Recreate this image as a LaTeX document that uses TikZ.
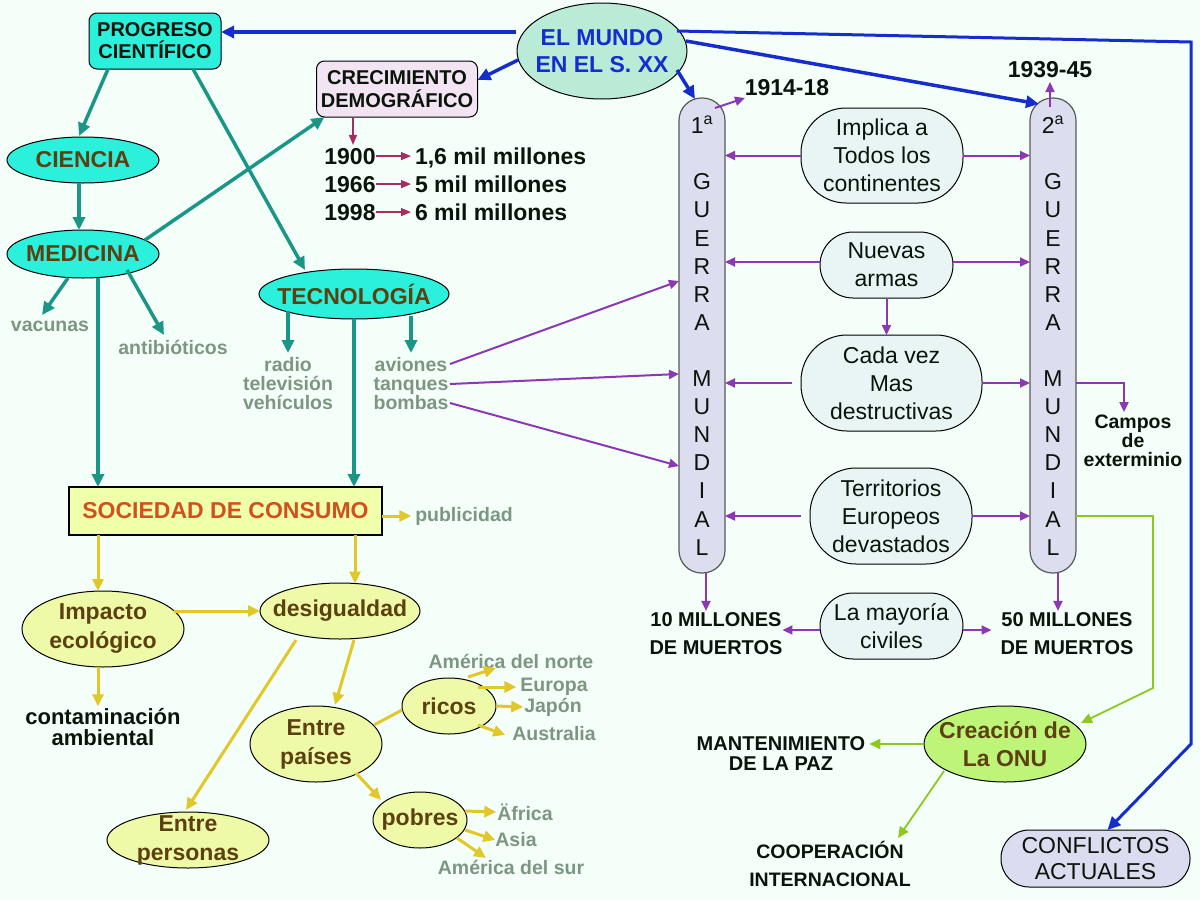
\documentclass[tikz,border=0pt]{standalone}
\usepackage{fontspec}
\setmainfont{Liberation Sans}
\usetikzlibrary{shapes.geometric,arrows.meta,calc}
\newcommand\fsz[2]{\fontsize{#1}{#2}\selectfont}
\definecolor{bg}{RGB}{245,255,250}
\definecolor{cyanf}{RGB}{42,240,220}
\definecolor{teal2}{RGB}{26,150,135}
\definecolor{brownt}{RGB}{92,64,16}
\definecolor{graygreen}{RGB}{125,150,130}
\definecolor{blue2}{RGB}{22,45,205}
\definecolor{mundof}{RGB}{185,235,215}
\definecolor{crecf}{RGB}{243,228,243}
\definecolor{maroon2}{RGB}{165,45,95}
\definecolor{yel}{RGB}{225,200,40}
\definecolor{yelf}{RGB}{238,250,168}
\definecolor{socf}{RGB}{240,255,170}
\definecolor{soct}{RGB}{210,80,30}
\definecolor{purp}{RGB}{140,55,180}
\definecolor{guerraf}{RGB}{220,222,240}
\definecolor{pillf}{RGB}{232,245,244}
\definecolor{greenl}{RGB}{140,200,30}
\definecolor{onuf}{RGB}{190,245,120}
\definecolor{darkt}{RGB}{10,20,10}
\definecolor{conflf}{RGB}{220,220,240}
\begin{document}
\begin{tikzpicture}[x=1pt,y=-1pt,
  every node/.style={inner sep=0pt,outer sep=0pt,align=center},
  tarrow/.style={draw=teal2,line width=3.5pt,-{Triangle[length=13pt,width=12pt]}},
  barrow/.style={draw=blue2,line width=3.5pt,-{Triangle[length=13pt,width=12pt]}},
  parrow/.style={draw=purp,line width=2pt,-{Triangle[length=10pt,width=9pt]}},
  yarrow/.style={draw=yel,line width=3pt,-{Triangle[length=12pt,width=11pt]}},
  garrow/.style={draw=greenl,line width=1.8pt,-{Triangle[length=11pt,width=10pt]}},
  marrow/.style={draw=maroon2,line width=1.5pt,-{Triangle[length=10pt,width=8pt]}},
  ellbase/.style={ellipse,draw=black,line width=1pt,inner xsep=-80pt,inner ysep=-40pt},
  cyanell/.style={ellbase,fill=cyanf,text=brownt,font=\fsz{23}{28}\bfseries},
  yell/.style={ellbase,fill=yelf,text=brownt,font=\fsz{23}{29}\bfseries},
  pill/.style={rectangle,draw=black,line width=1pt,fill=pillf,text=darkt,font=\fsz{23}{28}},
  guerra/.style={rectangle,rounded corners=22.5pt,draw=black!65,line width=1.2pt,fill=guerraf,minimum width=46pt,minimum height=475pt,text=darkt,font=\fsz{23}{28.1}},
  lbl/.style={text=graygreen,font=\fsz{19.5}{19}\bfseries},
  blk/.style={text=darkt,font=\fsz{20}{28}\bfseries},
  blkbig/.style={text=darkt,font=\fsz{23}{28}\bfseries}
]
\fill[bg] (0,0) rectangle (1200,900);
\useasboundingbox (0,0) rectangle (1200,900);

% ---------- top ----------
\node[rectangle,draw=black,line width=1pt,fill=cyanf,rounded corners=8pt,minimum width=132pt,minimum height=56pt,text=darkt,font=\fsz{20}{22}\bfseries] (prog) at (155,41) {PROGRESO\\CIENTÍFICO};
\node[ellbase,fill=mundof,minimum width=170pt,minimum height=96pt,text=blue2,font=\fsz{23}{27.5}\bfseries] (mundo) at (602,51) {EL MUNDO\\EN EL S. XX};
\node[rectangle,draw=black,line width=1pt,fill=crecf,rounded corners=8pt,minimum width=161pt,minimum height=56pt,text=darkt,font=\fsz{20}{23}\bfseries] (crec) at (397,89) {CRECIMIENTO\\DEMOGRÁFICO};

\node[blkbig,anchor=base] (y1900) at (350,164) {1900};
\node[blkbig,anchor=base] (y1966) at (350,192) {1966};
\node[blkbig,anchor=base] (y1998) at (350,220) {1998};
\node[blkbig,anchor=base west] (m16) at (415,164) {1,6 mil millones};
\node[blkbig,anchor=base west] (m5) at (415,192) {5 mil millones};
\node[blkbig,anchor=base west] (m6) at (415,220) {6 mil millones};

% ---------- left ----------
\node[cyanell,minimum width=152pt,minimum height=46pt] (ciencia) at (83,160) {CIENCIA};
\node[cyanell,minimum width=152pt,minimum height=48pt] (medicina) at (83,254) {MEDICINA};
\node[cyanell,minimum width=190pt,minimum height=50pt] (tecno) at (354,294) {TECNOLOGÍA};

\node[lbl] (vacunas) at (50,326) {vacunas};
\node[lbl] (antib) at (173,347) {antibióticos};
\node[lbl] (radio) at (288,384) {radio\\televisión\\vehículos};
\node[lbl] (aviones) at (411,384) {aviones\\tanques\\bombas};
\node[lbl] (publ) at (464,516) {publicidad};

\node[rectangle,draw=black,line width=1.2pt,fill=socf,minimum width=313pt,minimum height=48pt,text=soct,font=\fsz{23}{28}\bfseries] (soc) at (225.5,511) {SOCIEDAD DE CONSUMO};

\node[yell,minimum width=162pt,minimum height=76pt] (impacto) at (103,629) {Impacto\\ecológico};
\node[yell,minimum width=160pt,minimum height=56pt] (desig) at (340,611) {desigualdad};
\node[yell,minimum width=132pt,minimum height=76pt] (paises) at (316,744) {Entre\\países};
\node[yell,minimum width=162pt,minimum height=56pt] (personas) at (188,840) {Entre\\personas};
\node[yell,minimum width=94pt,minimum height=56pt] (ricos) at (449,706) {ricos};
\node[yell,minimum width=94pt,minimum height=56pt] (pobres) at (420,820) {pobres};

\node[text=darkt,font=\fsz{22}{21}\bfseries] (contam) at (103,727) {contaminación\\ambiental};

\node[lbl] (amnorte) at (511,661) {América del norte};
\node[lbl] (europa) at (554,687) {Europa};
\node[lbl] (japon) at (553,707) {Japón};
\node[lbl] (australia) at (554,734) {Australia};
\node[lbl] (africa) at (525,812) {Äfrica};
\node[lbl] (asia) at (516,840) {Asia};
\node[lbl] (amsur) at (511,867) {América del sur};

% ---------- right ----------
\node[guerra] (g1) at (702,335.5) {1\textsuperscript{a}\\[28.1pt]G\\U\\E\\R\\R\\A\\[28.1pt]M\\U\\N\\D\\I\\A\\L};
\node[guerra] (g2) at (1053,335.5) {2\textsuperscript{a}\\[28.1pt]G\\U\\E\\R\\R\\A\\[28.1pt]M\\U\\N\\D\\I\\A\\L};

\node[pill,rounded corners=45pt,minimum width=162pt,minimum height=95pt] (implica) at (882,155.5) {Implica a\\Todos los\\continentes};
\node[pill,rounded corners=33pt,minimum width=133pt,minimum height=66pt] (nuevas) at (886.5,265) {Nuevas\\armas};
\node[pill,rounded corners=46pt,minimum width=181pt,minimum height=96pt] (cada) at (891.5,383) {Cada vez\\Mas\\destructivas};
\node[pill,rounded corners=46pt,minimum width=162pt,minimum height=96pt] (terr) at (891,516) {Territorios\\Europeos\\devastados};
\node[pill,rounded corners=33pt,minimum width=143pt,minimum height=66pt] (mayoria) at (891.5,626) {La mayoría\\civiles};

\node[blkbig] (y1914) at (787,88) {1914-18};
\node[blkbig] (y1939) at (1050,70) {1939-45};
\node[blk] (m10) at (716,634) {10 MILLONES\\DE MUERTOS};
\node[blk] (m50) at (1067,634) {50 MILLONES\\DE MUERTOS};
\node[text=darkt,font=\fsz{19.5}{19}\bfseries] (campos) at (1133,441) {Campos\\de\\exterminio};

\node[ellbase,fill=onuf,minimum width=162pt,minimum height=76pt,text=brownt,font=\fsz{23}{28}\bfseries] (onu) at (1005,744) {Creación de\\La ONU};
\node[text=darkt,font=\fsz{20}{20}\bfseries] (mant) at (781,754) {MANTENIMIENTO\\DE LA PAZ};
\node[text=darkt,font=\fsz{19.5}{28}\bfseries] (coop) at (830,864) {COOPERACIÓN\\INTERNACIONAL};
\node[rectangle,rounded corners=28pt,draw=black,line width=1pt,fill=conflf,minimum width=189pt,minimum height=57pt,text=darkt,font=\fsz{23}{26}] (confl) at (1095.5,858.5) {CONFLICTOS\\ACTUALES};

\coordinate (bc1) at (1191,42);
\coordinate (bc2) at (1191,744);
\coordinate (gb1) at (1153,516);
\coordinate (gb2) at (1153,688);

% ---------- blue connectors ----------
\draw[barrow] ($(mundo)+(-86,-19)$) -- ([yshift=9pt]prog.east);
\draw[barrow] ($(mundo)+(-84,9)$) -- ([yshift=9pt]crec.east);
\draw[barrow] ($(mundo)+(75,19)$) -- ($(g1.north)+(-7,1)$);
\draw[barrow] ($(mundo)+(84,-10)$) -- ($(g2.north)+(-14,6)$);
\draw[barrow,line width=3pt] ($(mundo)+(75,-20)$) -- (bc1) -- (bc2) -- ([xshift=12pt]confl.north);

% ---------- maroon ----------
\draw[marrow] ($(crec.south)+(-44,0)$) -- ($(y1900.north)+(3,-3)$);
\draw[marrow,shorten >=4pt] (y1900.east) -- (y1900.east -| m16.west);
\draw[marrow,shorten >=4pt] (y1966.east) -- (y1966.east -| m5.west);
\draw[marrow,shorten >=4pt] (y1998.east) -- (y1998.east -| m6.west);

% ---------- teal ----------
\draw[tarrow] ($(prog.south)+(-47,0)$) -- ($(ciencia.north)+(-4,-1)$);
\draw[tarrow] ($(prog.south)+(38,0)$) -- ($(tecno)+(-49,-24)$);
\draw[tarrow] ($(ciencia.south)+(-4,0)$) -- ($(medicina.north)+(-4,0)$);
\draw[tarrow] ($(medicina)+(62,-14)$) -- ($(crec.south west)+(8,0)$);
\draw[tarrow] ($(medicina)+(-15,24)$) -- ($(vacunas)+(-8,-11)$);
\draw[tarrow] ($(medicina)+(44,16)$) -- ($(antib)+(-9,-12)$);
\draw[tarrow] ($(medicina.south)+(15,0)$) -- ($(soc.north west)+(29,0)$);
\draw[tarrow] ($(tecno)+(-66,17)$) -- ($(radio)+(0,-31)$);
\draw[tarrow] (tecno.south) -- (tecno.south |- soc.north);
\draw[tarrow] ($(tecno)+(57,22)$) -- ($(aviones)+(0,-31)$);

% ---------- purple ----------
\draw[parrow] ($(g1.north)+(13,10)$) -- ($(y1914)+(-42,10)$);
\draw[parrow] ($(g2.north)+(-3,9)$) -- ($(y1939)+(0,12)$);
\draw[parrow] (implica.west) -- (implica.west -| g1.east);
\draw[parrow] (implica.east) -- (implica.east -| g2.west);
\draw[parrow] ([yshift=3pt]nuevas.west) -- ([yshift=3pt]nuevas.west -| g1.east);
\draw[parrow] ([yshift=3pt]nuevas.east) -- ([yshift=3pt]nuevas.east -| g2.west);
\draw[parrow] (nuevas.south) -- (nuevas.south |- cada.north);
\draw[parrow,shorten <=9pt] (cada.west) -- (cada.west -| g1.east);
\draw[parrow] (cada.east) -- (cada.east -| g2.west);
\draw[parrow,shorten <=9pt] (terr.west) -- (terr.west -| g1.east);
\draw[parrow] (terr.east) -- (terr.east -| g2.west);
\draw[parrow] ([yshift=-4pt]mayoria.west) -- ([yshift=-4pt]mayoria.west -| m10.east);
\draw[parrow] ([yshift=-4pt]mayoria.east) -- ($([yshift=-4pt]mayoria.east -| m50.west)+(-9,0)$);
\draw[parrow] ($(g1.south)+(4,0)$) -- ($(m10.north)+(-10,-2)$);
\draw[parrow] ($(g2.south)+(5,0)$) -- ($(m50.north)+(-9,-2)$);
\draw[parrow] (cada.east -| g2.east) -| ($(campos.north)+(-9,-3)$);
\draw[parrow] ($(aviones)+(39,-20)$) -- ($(g1.west)+(0,-54.5)$);
\draw[parrow] ($(aviones)+(39,0)$) -- ($(g1.west)+(0,38.5)$);
\draw[parrow] ($(aviones)+(39,19)$) -- ($(g1.west)+(0,130.5)$);

% ---------- yellow ----------
\draw[yarrow] ([yshift=-5pt]soc.east) -- ($(publ.west)+(-4,0)$);
\draw[yarrow] ($(soc.south)+(-127.5,0)$) -- ($(impacto.north)+(-5,0)$);
\draw[yarrow] ($(soc.south)+(129.5,0)$) -- ($(desig)+(15,-27.5)$);
\draw[yarrow] ($(impacto)+(71,-18)$) -- (desig.west);
\draw[yarrow] ($(impacto.south)+(-5,0)$) -- ($(contam.north)+(-5,-2)$);
\draw[yarrow] ($(desig)+(14,29)$) -- ($(paises)+(19,-39)$);
\draw[yarrow] ($(desig)+(-44,29)$) -- ($(personas)+(-2,-30)$);
\draw[draw=yel,line width=3pt] ($(paises)+(58,-19)$) -- ($(ricos)+(-47,4)$);
\draw[yarrow] ($(paises)+(40,29)$) -- ($(pobres)+(-39,-20)$);
\draw[yarrow] ($(ricos)+(19,-29)$) -- ($(amnorte)+(-15,7)$);
\draw[yarrow] ($(ricos)+(29,-19)$) -- ($(europa.west)+(-4,0)$);
\draw[yarrow] (ricos.east) -- ($(japon.west)+(-1,0)$);
\draw[yarrow] ($(ricos)+(29,19)$) -- ($(australia.west)+(-7,1)$);
\draw[yarrow] ($(pobres)+(45,-9)$) -- ($(africa.west)+(-1,0)$);
\draw[yarrow] ($(pobres)+(45,10)$) -- (asia.west);
\draw[yarrow] ($(pobres)+(37,18)$) -- ($(amsur)+(-25,-9)$);

% ---------- green ----------
\draw[garrow] (terr.east -| g2.east) -- (gb1) -- (gb2) -- ($(onu)+(76,-21)$);
\draw[garrow] (onu.west) -- ($(onu.west -| mant.east)+(4,0)$);
\draw[garrow] ($(onu)+(-61,27)$) -- ($(coop)+(68,-26)$);
\end{tikzpicture}
\end{document}
